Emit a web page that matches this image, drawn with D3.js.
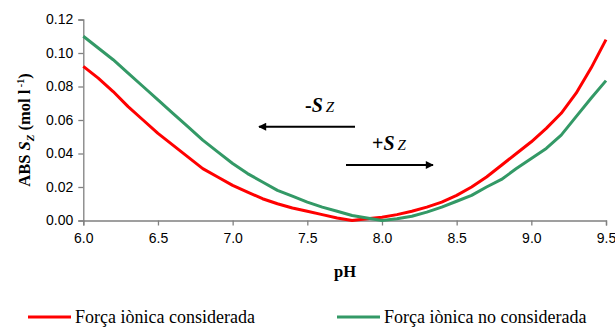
<!DOCTYPE html>
<html>
<head>
<meta charset="utf-8">
<script src="https://cdn.jsdelivr.net/npm/d3@7"></script>
<style>
  html, body { margin: 0; padding: 0; background: #fff; }
  svg { display: block; }
</style>
</head>
<body>
<svg id="chart" width="615" height="329"></svg>
<script>
// pH grid (0.1 steps)
const ph = [6.0, 6.1, 6.2, 6.3, 6.4, 6.5, 6.6, 6.7, 6.8, 6.9,
            7.0, 7.1, 7.2, 7.3, 7.4, 7.5, 7.6, 7.7, 7.8, 7.9,
            8.0, 8.1, 8.2, 8.3, 8.4, 8.5, 8.6, 8.7, 8.8, 8.9,
            9.0, 9.1, 9.2, 9.3, 9.4, 9.5];

// ABS S_Z with ionic strength taken into account
const considerada = [0.092, 0.085, 0.077, 0.068, 0.060, 0.052, 0.045, 0.038, 0.031, 0.026,
                     0.021, 0.017, 0.013, 0.010, 0.0075, 0.0055, 0.0035, 0.0015, 0.0, 0.001,
                     0.002, 0.0035, 0.0055, 0.008, 0.011, 0.015, 0.020, 0.026, 0.033, 0.040,
                     0.047, 0.055, 0.064, 0.076, 0.091, 0.108];

// ABS S_Z without ionic strength
const noConsiderada = [0.110, 0.103, 0.096, 0.088, 0.080, 0.072, 0.064, 0.056, 0.048, 0.041,
                       0.034, 0.028, 0.023, 0.018, 0.0145, 0.011, 0.008, 0.0055, 0.003, 0.0015,
                       0.0, 0.001, 0.0025, 0.005, 0.008, 0.0115, 0.015, 0.020, 0.0245, 0.031,
                       0.037, 0.043, 0.051, 0.062, 0.073, 0.0835];

const xTicks = [6.0, 6.5, 7.0, 7.5, 8.0, 8.5, 9.0, 9.5];
const yTicks = [0.00, 0.02, 0.04, 0.06, 0.08, 0.10, 0.12];

const seriesNames = ["Força iònica considerada", "Força iònica no considerada"];
const seriesColors = ["#ff0000", "#339966"];

const svg = d3.select("#chart");
const plotLeft = 83.3, plotRight = 606, plotTop = 19.5, plotBottom = 220.5;

const x = d3.scaleLinear().domain([6.0, 9.5]).range([plotLeft, plotRight]);
const y = d3.scaleLinear().domain([0, 0.12]).range([plotBottom, plotTop]);

const axisColor = "#808080";
const SANS = "Liberation Sans";
const SERIF = "Liberation Serif";

// X axis
const gx = svg.append("g").attr("transform", `translate(0,${plotBottom})`)
  .call(d3.axisBottom(x).tickValues(xTicks).tickFormat(d3.format(".1f")).tickSizeOuter(0).tickSize(5).tickPadding(8));
// Y axis
const gy = svg.append("g").attr("transform", `translate(${plotLeft},0)`)
  .call(d3.axisLeft(y).tickValues(yTicks).tickFormat(d3.format(".2f")).tickSizeOuter(0).tickSize(5).tickPadding(5));

[gx, gy].forEach(g => {
  g.attr("font-family", SANS).attr("font-size", 14);
  g.select(".domain").attr("stroke", axisColor).attr("stroke-width", 1.3);
  g.selectAll(".tick line").attr("stroke", axisColor).attr("stroke-width", 1.3);
  g.selectAll(".tick text").attr("fill", "#000");
});

// Series lines
const line = d3.line().x((d, i) => x(ph[i])).y(d => y(d));
[considerada, noConsiderada].forEach((vals, k) => {
  svg.append("path").datum(vals)
    .attr("d", line)
    .attr("fill", "none")
    .attr("stroke", seriesColors[k])
    .attr("stroke-width", 3)
    .attr("stroke-linejoin", "round");
});

// Axis titles
svg.append("text")
  .attr("font-family", SERIF).attr("font-size", 16.5).attr("font-weight", "bold")
  .attr("x", 345).attr("y", 277)
  .attr("text-anchor", "middle")
  .text("pH");

const yt = svg.append("text")
  .attr("font-family", SERIF).attr("font-size", 16.5).attr("font-weight", "bold")
  .attr("transform", "translate(30,130) rotate(-90)")
  .attr("text-anchor", "middle");
yt.append("tspan").text("ABS  ");
yt.append("tspan").attr("font-style", "italic").text("S");
yt.append("tspan").attr("font-style", "italic").attr("font-size", 11).attr("dy", 4).text("Z");
yt.append("tspan").attr("dy", -4).text(" (mol l");
yt.append("tspan").attr("font-size", 10).attr("dy", -6).text(" -1");
yt.append("tspan").attr("dy", 6).text(")");

// Direction annotations
svg.append("defs").append("marker")
  .attr("id", "head").attr("viewBox", "0 0 10 10")
  .attr("refX", 9).attr("refY", 5)
  .attr("markerWidth", 5).attr("markerHeight", 4)
  .attr("markerUnits", "strokeWidth").attr("orient", "auto")
  .append("path").attr("d", "M0,0 L10,5 L0,10 Z").attr("fill", "#000");

function arrow(x1, x2, yy) {
  svg.append("line").attr("x1", x1).attr("x2", x2).attr("y1", yy).attr("y2", yy)
    .attr("stroke", "#000").attr("stroke-width", 2).attr("marker-end", "url(#head)");
}
function szLabel(xx, yy, sign) {
  const t = svg.append("text").attr("x", xx).attr("y", yy)
    .attr("font-family", SERIF).attr("font-weight", "bold").attr("font-style", "italic");
  t.append("tspan").attr("font-size", 20).attr("font-style", "normal").text(sign);
  t.append("tspan").attr("font-size", 20).text("S");
  t.append("tspan").attr("font-size", 15).attr("font-weight", "normal").attr("dx", 3).text("Z");
}
arrow(355, 259, 126.7);
szLabel(305, 111.5, "-");
arrow(346, 433, 165);
szLabel(372, 150, "+");

// Legend
const legX = [28, 337];
seriesNames.forEach((name, k) => {
  svg.append("line").attr("x1", legX[k]).attr("x2", legX[k] + 43)
    .attr("y1", 317).attr("y2", 317)
    .attr("stroke", seriesColors[k]).attr("stroke-width", 3);
  svg.append("text").attr("x", legX[k] + 47).attr("y", 323)
    .attr("font-family", SERIF).attr("font-size", 18)
    .text(name);
});
</script>
</body>
</html>
